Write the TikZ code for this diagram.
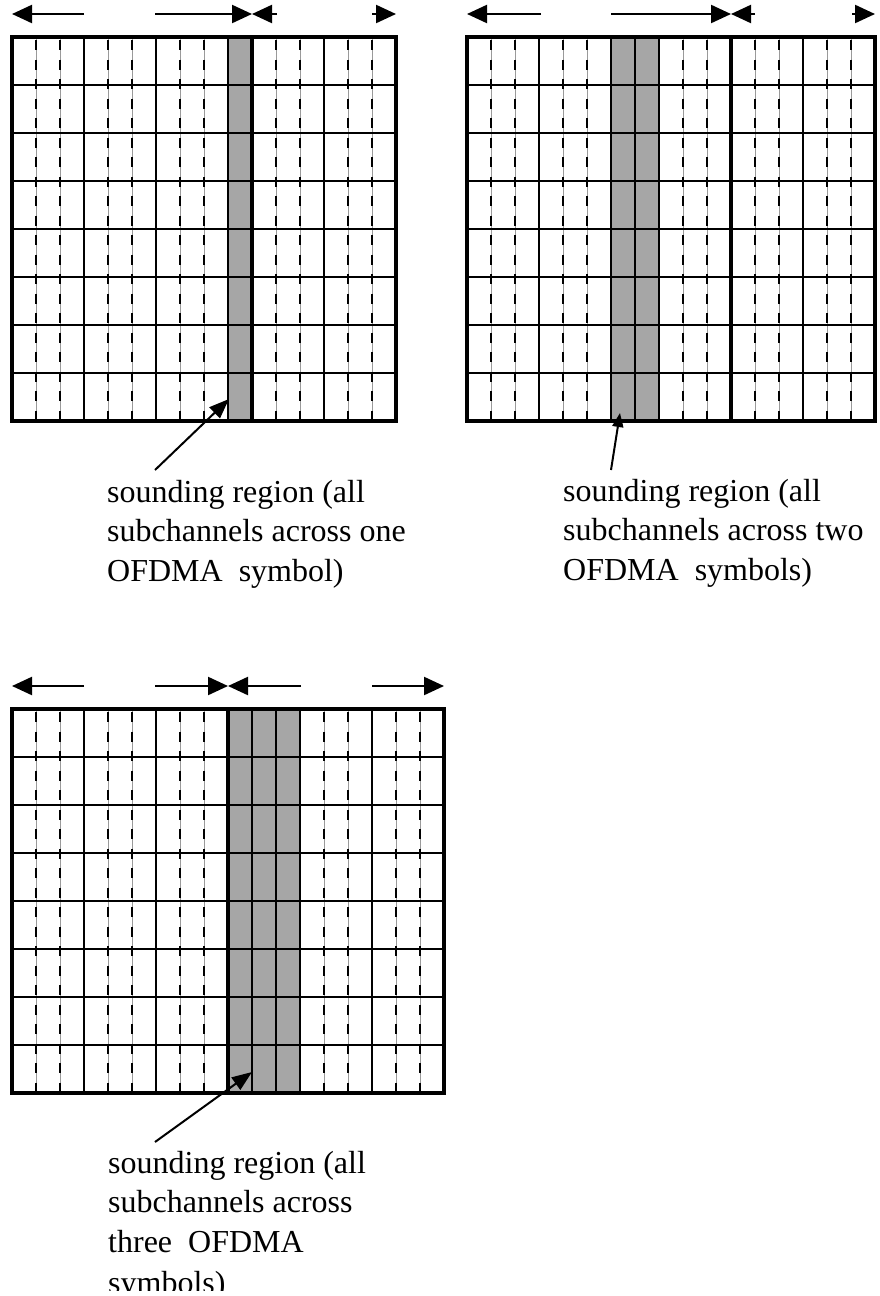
\documentclass[tikz,border=0pt]{standalone}
\usepackage{fontspec}
\setmainfont{Liberation Serif}
\usetikzlibrary{arrows.meta}
\definecolor{Shade}{HTML}{A6A6A6}
\definecolor{Hair}{HTML}{9A9A9A}

\begin{document}
\begin{tikzpicture}[x=1pt,y=-1pt,
  frame/.style={line width=4.2pt,draw=black},
  cell/.style={line width=2.2pt,draw=black},
  hairline/.style={line width=.8pt,draw=Hair},
  subline/.style={line width=2.2pt,draw=black,dash pattern=on 10pt off 9.5pt},
  span/.style={-{Triangle[length=20pt,width=18pt]},line width=2.2pt},
  pointer/.style={-{Triangle[length=20pt,width=15pt]},line width=2pt},
  caption/.style={anchor=north west,inner sep=0pt,align=left,
    font=\fontsize{32}{39.5}\selectfont}]
\useasboundingbox (0,0) rectangle (879,1296);
\clip (0,0) rectangle (879,1290);
% grid with one sounding symbol
\begin{scope}[shift={(12,37)}]
\fill[Shade] (216,0) rectangle (240,384);
\foreach \i in {1,2,4,5,7,8,11,12,14,15}{
  \draw[hairline] (\i*24,0) -- (\i*24,384);
  \draw[subline] (\i*24,3) -- (\i*24,384);}
\foreach \i in {3,6,9,13} \draw[cell] (\i*24,0) -- (\i*24,384);
\foreach \j in {1,...,7} \draw[cell] (0,\j*48) -- (384,\j*48);
\draw[frame] (240,0) -- (240,384);
\draw[frame] (0,0) rectangle (384,384);
\end{scope}
% grid with two sounding symbols
\begin{scope}[shift={(467,37)}]
\fill[Shade] (144,0) rectangle (192,384);
\foreach \i in {1,2,4,5,9,10,12,13,15,16}{
  \draw[hairline] (\i*24,0) -- (\i*24,384);
  \draw[subline] (\i*24,3) -- (\i*24,384);}
\foreach \i in {3,6,7,8,14} \draw[cell] (\i*24,0) -- (\i*24,384);
\foreach \j in {1,...,7} \draw[cell] (0,\j*48) -- (408,\j*48);
\draw[frame] (264,0) -- (264,384);
\draw[frame] (0,0) rectangle (408,384);
\end{scope}
% grid with three sounding symbols
\begin{scope}[shift={(12,709)}]
\fill[Shade] (216,0) rectangle (288,384);
\foreach \i in {1,2,4,5,7,8,13,14,16,17}{
  \draw[hairline] (\i*24,0) -- (\i*24,384);
  \draw[subline] (\i*24,3) -- (\i*24,384);}
\foreach \i in {3,6,10,11,12,15} \draw[cell] (\i*24,0) -- (\i*24,384);
\foreach \j in {1,...,7} \draw[cell] (0,\j*48) -- (432,\j*48);
\draw[frame] (216,0) -- (216,384);
\draw[frame] (0,0) rectangle (432,384);
\end{scope}

% span arrows
\coordinate (aL1) at (12,14);   \coordinate (aS1) at (84,14);
\coordinate (aE1) at (155,14);  \coordinate (aM1) at (252,14);
\coordinate (aN1) at (277,14);  \coordinate (aF1) at (372,14);
\coordinate (aR1) at (396,14);
\draw[span] (aS1) -- (aL1); \draw[span] (aE1) -- (aM1);
\draw[span] (aN1) -- (aM1); \draw[span] (aF1) -- (aR1);
\coordinate (aL2) at (467,14);  \coordinate (aS2) at (541,14);
\coordinate (aE2) at (611,14);  \coordinate (aM2) at (731,14);
\coordinate (aN2) at (755,14);  \coordinate (aF2) at (852,14);
\coordinate (aR2) at (875,14);
\draw[span] (aS2) -- (aL2); \draw[span] (aE2) -- (aM2);
\draw[span] (aN2) -- (aM2); \draw[span] (aF2) -- (aR2);
\coordinate (aL3) at (12,686);  \coordinate (aS3) at (84,686);
\coordinate (aE3) at (155,686); \coordinate (aM3) at (228,686);
\coordinate (aN3) at (301,686); \coordinate (aF3) at (372,686);
\coordinate (aR3) at (444,686);
\draw[span] (aS3) -- (aL3); \draw[span] (aE3) -- (aM3);
\draw[span] (aN3) -- (aM3); \draw[span] (aF3) -- (aR3);

% captions and pointers
\node[caption](one) at (107,480){sounding region (all\\subchannels across one\\OFDMA\ \ symbol)};
\node[caption](two) at (563,479){sounding region (all\\subchannels across two\\OFDMA\ \ symbols)};
\node[caption](three) at (108,1151){sounding region (all\\subchannels across\\three\ \ OFDMA\\[1.5pt]symbols)};
\coordinate (tail1) at (155,470);  \coordinate (tip1) at (229,399);
\coordinate (tail2) at (611,470);  \coordinate (tip2) at (620,413);
\coordinate (tail3) at (155,1142); \coordinate (tip3) at (252,1072);
\draw[pointer] (tail1) -- (tip1);
\draw[pointer,-{Triangle[length=14pt,width=11pt]}] (tail2) -- (tip2);
\draw[pointer] (tail3) -- (tip3);
\end{tikzpicture}
\end{document}
